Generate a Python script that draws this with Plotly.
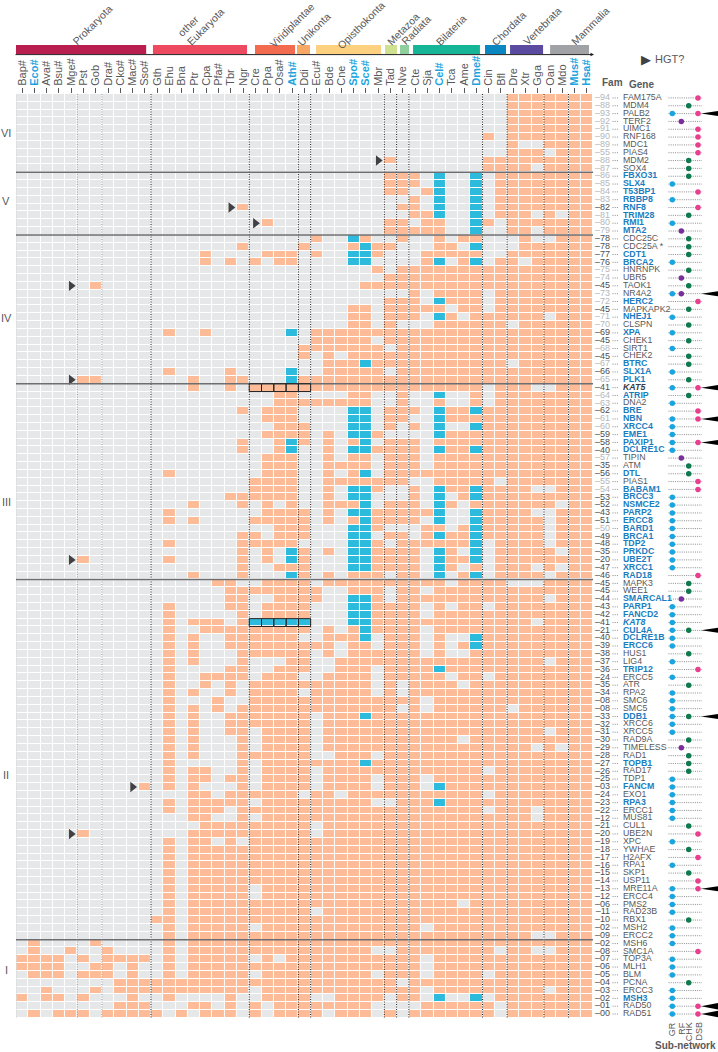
import plotly.graph_objects as go

species = ["Bap#","Eco#","Ava#","Bsu#","Mge#","Pst","Gob","Dra#","Cko#","Mac#","Sso#","Gth","Ehu","Bna","Ptr","Cpa","Pfa#","Tbr","Ngr",
           "Cre","Ppa","Osa#","Ath#","Ddi","Ecu#","Bde","Cne","Spo#","Sce#","Mbr","Tad","Nve","Cte","Sja","Cel#","Tca","Ame","Dme#",
           "Cin","Bfl","Dre","Xtr","Gga","Oan","Mdo","Mus#","Hsa#"]
model_species = {"Eco#","Ath#","Spo#","Sce#","Cel#","Dme#","Mus#","Hsa#"}

genes = ["FAM175A","MDM4","PALB2","TERF2","UIMC1","RNF168","MDC1","PIAS4","MDM2","SOX4",
         "FBXO31","SLX4","T53BP1","RBBP8","RNF8","TRIM28","RMI1","MTA2",
         "CDC25C","CDC25A *","CDT1","BRCA2","HNRNPK","UBR5","TAOK1","NR4A2","HERC2","MAPKAPK2","NHEJ1","CLSPN","XPA","CHEK1","SIRT1","CHEK2","BTRC","SLX1A","PLK1",
         "KAT5","ATRIP","DNA2","BRE","NBN","XRCC4","EME1","PAXIP1","DCLRE1C","TIPIN","ATM","DTL","PIAS1","BABAM1","BRCC3","NSMCE2","PARP2","ERCC8","BARD1","BRCA1","TDP2","PRKDC","UBE2T","XRCC1","RAD18",
         "MAPK3","WEE1","SMARCAL1","PARP1","FANCD2","KAT8","CUL4A","DCLRE1B","ERCC6","HUS1","LIG4","TRIP12","ERCC5","ATR","RPA2","SMC6","SMC5","DDB1","XRCC6","XRCC5","RAD9A","TIMELESS","RAD1","TOPB1","RAD17","TDP1","FANCM","EXO1","RPA3","ERCC1","MUS81","CUL1","UBE2N","XPC","YWHAE","H2AFX","RPA1","SKP1","USP11","MRE11A","ERCC4","PMS2","RAD23B","RBX1","MSH2","ERCC2",
         "MSH6","SMC1A","TOP3A","MLH1","BLM","PCNA","ERCC3","MSH3","RAD50","RAD51"]

fam = ["94","88","93","92","91","90","89","55","88","87","86","85","84","83","82","81","80","79",
       "78","78","77","76","75","74","45","73","72","45","71","70","69","45","68","45","67","66","65",
       "41","64","63","62","61","60","59","58","40","57","35","56","55","54","53","52","43","51","50","49","48","35","20","47","46",
       "45","45","44","43","42","41","21","40","39","38","37","36","24","35","34","08","08","33","32","31","30","29","28","27","26","25","03","24","23","22","12","21","20","19","18","17","16","15","14","13","12","06","11","10","02","09",
       "02","08","07","06","05","04","03","02","01","00"]
fam_faded_rows = [0,1,2,3,4,5,6,7,8,9,10,11,12,13,15,16,17,22,23,25,26,28,29,32,34,36,38,39,41,42,46,49,50,55]

blue_genes = {"FBXO31","SLX4","T53BP1","RBBP8","RNF8","TRIM28","RMI1","MTA2","CDT1","BRCA2","HERC2","NHEJ1","XPA","BTRC","SLX1A","PLK1",
              "ATRIP","BRE","NBN","XRCC4","EME1","PAXIP1","DCLRE1C","DTL","BABAM1","BRCC3","NSMCE2","PARP2","ERCC8","BARD1","BRCA1","TDP2","PRKDC","UBE2T","XRCC1","RAD18",
              "SMARCAL1","PARP1","FANCD2","KAT8","CUL4A","DCLRE1B","ERCC6","TRIP12","DDB1","TOPB1","FANCM","RPA3","MSH3"}
italic_genes = {"KAT5","KAT8"}

# presence per gene: "orange columns|blue columns"
presence = [
"40-46","40-46","40-46","40-46","40-46","38,40-46","40,43-46","40-42,44-46","30,38-46","38-41,43-46",
"30-32,39-46|34,37","30-32,39-46|34,37","30,31,33,39-46|34,37","32,39-46|34,37","18,31,32,39-46|34,37","32,33,39-41,43,45,46|34,37","20,30,31,33,34,38,40-46|37","30-34,40,41,43-46|37",
"24,28,31,34,36,37,41,44-46|27","18,23,27,29,30,34,35,41-46|28,37","15,20-22,24,29,33-37,40-46|27,28","15,17,19,21,22,33,36,39,40,42-46|27,28,34,37",
"29,31-46","30-46","6,28-46","32,34-37,39-46","30-32,35-37,39-46|34","27,28,30-34,36,37,39-46","27,28,30-32,35,37-42,44-46|34","27,28,30,34-39,41-46",
"12,15,24-46|22","24-28,30-46","23-29,31-46","23,25,27-46","25-27,29-39,41-46|28","12,17,25-29,31-46|22","5,6,14,17,18,23-46|22",
"14,17,19-37,39-41,44-46","21,22,27,28,31,37,39-46|34","21-28,31,34,37,39-46","18,20-22,30-32,35,36,38-46|27,28,34,37","20-22,30,31,35-46|27,28,34",
"21-23,30,32,38-46|27,28,34,37","20-23,25,29,35-46|27,28,34","18,21,23,25,27,30-32,34-46|22,28","18,21,25,29-32,35,36,38-46|22,27,28,34,37","20-22,25,27,28,30-32,34-46",
"20-22,25-28,30-32,34-46","12,20-22,25,27,30-46|28","19-22,25-31,34-38,40-46","19-22,25,29,32,35,36,38-41,44-46|27,28,34,37","17-22,25,32,36,38-46|27,28,34,37",
"14,18,20,22,25-27,30-32,35,37-43,45,46|28,34","12,20-23,25,29-33,38-41,44-46|27,28,34,37","12,14,19-23,25,27,29-32,38-42,44-46|28,34,37","21-23,29,33,34,36,38-42,44-46|27,28,37",
"18,19,21-23,30,31,33,35,36,38-42,44-46|27,28,34,37","12,18-22,29,31-36,39-42,44-46|27,28,37","18,20,23,25,29-32,35,39-43,45,46|22,27,28,34,37","5,12,18,20,23,29-32,35,36,39-46|22,27,28,34,37",
"18,21-23,29-32,35,37,39-41,43,45,46|27,28,34","14,18,23,25,27-29,31,32,36,39-42,44-46|22,34,37",
"16,17,20-23,25-34,36-39,43-46","17-24,27-29,31,32,34-46","17,18,21-24,29,31-42,44-46|27,28","12,17,18,20-23,29-32,34,36,37,39-46|27,28","12,18,20-23,29-32,34-46|27,28",
"12,14-16,18,29-41,43-46|19-23,27,28","12,15-23,25,27,29-32,34-46|28","12,14,17-22,25-27,30-32,34,38-46|28,37","12,14,17-25,27,28,30-32,34,36,38-46|37","12,14,18-23,25,27-32,34,37-46",
"12,14,18,22,23,26-42,44-46","12,17,18,21-23,26-28,30-33,35-46|34","12,15-18,20-22,25-28,30-34,36,37,39-46","12,15,17,19-28,30,32-35,37-46","12,14,17,19-22,24-28,30,32-46",
"12,16,19-32,34-46","12,14,16,18-30,32,34-39,41-46","12,14,17-23,25-27,29-46|28","12,14,17-23,25-46","12,14,17,18,20-23,25-42,44-46",
"12,14,18,20-23,25-35,37-46","12,14,18,20-23,25-41,43,45,46","12,14,18-23,26-28,30-46","12,18,20-27,29-46|28","12,14,15,18,20-23,25-37,39-46",
"12,14,15,17,18,20-23,25-28,30-32,34-46","10,12,14,18,20-23,25-28,30-32,35-46|34","14,15,17-22,24,25,27-37,39-46","12,14-18,20-28,31-33,35-46|34","12,14-16,18-37,39-41,43-46",
"14,15,18,20-41,43-46","15-23,25-46","5,14-23,25-46","12,14,15,17,19-46","12,14-46","12,14-46","12,14-46","12,14-46","12,14-46",
"12,14-18,20-46","12,14-18,20-46","12,14-35,37-46","12,14-23,25-46","11,12,14-46","12,14-18,20-32,34-46","12,14-41,44-46",
"1,6,12,14-46","1,4,7,12,14-28,31-38,40,41,44-46","0-3,5,7-10,12,14-18,20,22-32,34-46","0-3,6,7,9,12,14-32,34-46","1-3,5-7,9,12,14-18,20-28,30-32,34-37,39-46",
"8-30,32-46","2,6,8-18,20-32,34-42,44-46","0,2,3,5,9,12,17,20-23,26-29,31,32,39-46|34,37","8-10,14,15,17,19,21-28,33-38,40-46","1,3-5,7-11,13,15-17,19,21-24,26-28,30,32-38,40-46",
]

# sub-network membership per gene: G=GR, R=RF, C=CHK, D=DSB
subnet = ["D","C","GD","R","D","D","D","D","C","C","C","G","D","G","D","C","G","R",
          "C","C","C","G","C","R","C","GR","D","C","G","C","G","C","G","C","C","G","C",
          "GD","C","G","D","GD","G","G","GD","G","R","C","C","D","D","G","G","G","G","G","G","G","G","G","G","D",
          "C","C","R","G","G","G","GC","G","G","C","G","D","G","C","G","G","G","GC","G","G","C","R","C","C","C","G","G","G","G","G","G","C","D","G","C","D","G","C","D","GD","G","G","G","C","G","G",
          "G","D","G","G","G","C","G","G","GD","GD"]

hgt_rows = [8,14,16,24,36,59,88,94]
hgt_cols = [29,17,19,4,4,4,9,4]
wedge_genes = ["PALB2","NR4A2","KAT5","NBN","PAXIP1","CUL4A","DDB1","MRE11A","RAD50","RAD51"]
boxed_rows = [37,67]
boxed_cols = [19,20,21,22,23]
group_breaks = [10,18,37,62,108]
group_names = ["VI","V","IV","III","II","I"]
group_mid = [4.5,13.2,28.1,51.6,86.5,111.4]
dark_dots = [11,19,23,24,30,31,32,38,40,43,45]
grey_dots = [5,7]

taxa = ["Prokaryota","other Eukaryota","Viridiplantae","Unikonta","Opisthokonta","Metazoa","Radiata","Bilateria","Chordata","Vertebrata","Mammalia"]
taxa_start = [-0.63,10.66,18.97,22.39,23.94,29.56,30.78,31.84,37.70,39.74,43.00]
taxa_end = [10.11,18.32,22.23,23.45,29.23,30.53,31.51,37.29,39.41,42.43,46.17]
taxa_color = ["#b81f4f","#ee4a5f","#f26b4e","#f8a765","#fdd17f","#cfe08f","#8fcf9d","#16b598","#0a86c1","#5a4ba1","#a0a2a6"]

W, H = 718, 1052
GRID_L, COL_W, GRID_T, ROW_H = 15.9, 12.28, 94.0, 7.83
N_C, N_R = len(species), len(genes)
FONT = "Liberation Sans, Arial, sans-serif"
TXT = "#58595b"
BLUE_TXT = "#1b7dbf"

def parse(part):
    out = []
    for tok in part.split(","):
        if not tok:
            continue
        if "-" in tok:
            a, b = tok.split("-")
            out += list(range(int(a), int(b) + 1))
        else:
            out.append(int(tok))
    return out

z = []
for spec in presence:
    orange, _, blue = spec.partition("|")
    row = [0] * N_C
    for c in parse(orange):
        row[c] = 1
    for c in parse(blue):
        row[c] = 2
    z.append(row)

fig = go.Figure()
fig.add_trace(go.Heatmap(z=z, x=list(range(N_C)), y=list(range(N_R)), zmin=0, zmax=2, xgap=1, ygap=1, showscale=False, hoverinfo="skip",
                         colorscale=[[0,"#e6e7e9"],[0.33,"#e6e7e9"],[0.34,"#fdbc97"],[0.66,"#fdbc97"],[0.67,"#2cbbdc"],[1,"#2cbbdc"]]))
fig.add_trace(go.Scatter(x=hgt_cols, y=hgt_rows, mode="markers", hoverinfo="skip",
                         marker=dict(symbol="triangle-right", size=9, color="#414042")))

# right-hand panel on a second x axis measured in figure pixels
X_FAM, X_TICK0, X_TICK1, X_GENE = 610, 612.5, 618.5, 623
SUB_X = {"G": 672.3, "R": 681.3, "C": 688.7, "D": 698.0}
SUB_C = {"G": "#1ba5df", "R": "#7a2e9c", "C": "#0e7a4e", "D": "#e8408f"}
rows = list(range(N_R))

lx, ly = [], []
for r in rows:
    lx += [X_TICK0, X_TICK1, None, 668.5, 702, None]
    ly += [r, r, None, r, r, None]
fig.add_trace(go.Scatter(x=lx, y=ly, xaxis="x2", mode="lines", hoverinfo="skip",
                         line=dict(color="#6d6e71", width=0.8, dash="1px,1.2px")))

fam_col = ["#b5b7ba" if r in fam_faded_rows else "#4d4e50" for r in rows]
fig.add_trace(go.Scatter(x=[X_FAM]*N_R, y=rows, xaxis="x2", mode="text", text=["–"+f for f in fam], textposition="middle left",
                         textfont=dict(family=FONT, size=9, color=fam_col), hoverinfo="skip", cliponaxis=False))

def gene_label(g):
    t = g
    if g in italic_genes:
        t = f"<i>{t}</i>"
    if g in blue_genes or g in italic_genes:
        t = f"<b>{t}</b>"
    return t
gene_col = []
for g in genes:
    if g in blue_genes:
        gene_col.append(BLUE_TXT)
    elif g in italic_genes:
        gene_col.append("#3a3a3c")
    else:
        gene_col.append(TXT)
fig.add_trace(go.Scatter(x=[X_GENE]*N_R, y=rows, xaxis="x2", mode="text", text=[gene_label(g) for g in genes], textposition="middle right",
                         textfont=dict(family=FONT, size=8.8, color=gene_col), hoverinfo="skip", cliponaxis=False))

for key in "GRCD":
    rr = [r for r in rows if key in subnet[r]]
    fig.add_trace(go.Scatter(x=[SUB_X[key]]*len(rr), y=rr, xaxis="x2", mode="markers", hoverinfo="skip",
                             marker=dict(size=5.5, color=SUB_C[key])))

for g in wedge_genes:
    r = genes.index(g)
    half = 0.42 if g in ("RAD50","RAD51") else 0.32
    fig.add_trace(go.Scatter(x=[701, 718, 718, 701], y=[r, r-half, r+half, r], xaxis="x2", mode="lines", fill="toself",
                             fillcolor="#000000", line=dict(width=0), hoverinfo="skip"))

shapes = []
for k in dark_dots + grey_dots:
    col = "#9a9b9e" if k in grey_dots else "#231f20"
    shapes.append(dict(type="line", xref="x", yref="y", x0=k-0.5, x1=k-0.5, y0=-0.5, y1=N_R-0.5,
                       line=dict(color=col, width=1, dash="1px,1.5px")))
shapes.append(dict(type="line", xref="x", yref="y", x0=-0.5, x1=-0.5, y0=-0.5, y1=N_R-0.5, line=dict(color="#d9dadc", width=1.5)))
shapes.append(dict(type="line", xref="x", yref="y", x0=-0.5, x1=N_C-0.5, y0=N_R-0.35, y1=N_R-0.35, line=dict(color="#d9dadc", width=1.5)))
for b in group_breaks:
    shapes.append(dict(type="line", xref="x", yref="y", x0=-0.65, x1=N_C-0.3, y0=b-0.5, y1=b-0.5, line=dict(color="#6d6e71", width=1.5)))
for r in boxed_rows:
    for c in boxed_cols:
        shapes.append(dict(type="rect", xref="x", yref="y", x0=c-0.5, x1=c+0.5, y0=r-0.5, y1=r+0.5, line=dict(color="#231f20", width=1)))
for s, e, c in zip(taxa_start, taxa_end, taxa_color):
    shapes.append(dict(type="rect", xref="x", yref="paper", x0=s, x1=e, y0=1-54/H, y1=1-45/H, fillcolor=c, line=dict(width=0)))

annots = []
def px_text(txt, x, y, size=11, color=TXT, angle=0, xanchor="center"):
    annots.append(dict(text=txt, x=x/W, y=1-y/H, xref="paper", yref="paper", showarrow=False, textangle=angle, xanchor=xanchor, yanchor="middle",
                       font=dict(family=FONT, size=size, color=color)))

annots.append(dict(x=594/W, y=1-54.6/H, ax=-580, ay=0, xref="paper", yref="paper", axref="pixel", ayref="pixel", text="",
                   showarrow=True, arrowhead=2, arrowsize=0.7, arrowwidth=1, arrowcolor="#231f20"))

for t, x, y in [("Prokaryota",92,25),("other",188,26),("Eukaryota",205,27),("Viridiplantae",292,25),("Unikonta",314,29),("Opisthokonta",361,25),
                ("Metazoa",403,29),("Radiata",416,30),("Bilateria",451,30),("Chordata",509,28),("Vertebrata",542,26),("Mammalia",590,26)]:
    px_text(t, x, y, size=10.5, angle=-45)

px_text("▶", 646, 59, size=13, color="#414042")
px_text("HGT?", 653, 59, size=11, xanchor="left")
px_text("<b>Fam</b>", 612, 83, size=10)
px_text("<b>Gene</b>", 641, 84, size=10)
for t, x in [("GR",672.3),("RF",681.3),("CHK",688.7),("DSB",698.0)]:
    annots.append(dict(text=t, x=x/W, y=1-1020/H, xref="paper", yref="paper", showarrow=False, textangle=-90, xanchor="center", yanchor="top",
                       font=dict(family=FONT, size=9, color=TXT)))
px_text("<b>Sub-network</b>", 685, 1045, size=10)
for t, m in zip(group_names, group_mid):
    annots.append(dict(text=t, x=6/W, y=m, xref="paper", yref="y", showarrow=False, xanchor="center", yanchor="middle",
                       font=dict(family=FONT, size=11, color=TXT)))

def sp_label(s):
    if s in model_species:
        return f'<span style="color:#1ba5df"><b>{s}</b></span>'
    return s

fig.update_layout(
    width=W, height=H, margin=dict(l=0, r=0, t=0, b=0), autosize=False, showlegend=False,
    paper_bgcolor="white", plot_bgcolor="rgba(0,0,0,0)", shapes=shapes, annotations=annots,
    xaxis=dict(domain=[GRID_L/W, (GRID_L+N_C*COL_W)/W], range=[-0.5, N_C-0.5], side="top", anchor="y", tickmode="array",
               tickvals=list(range(N_C)), ticktext=[sp_label(s) for s in species], tickangle=-90, ticks="outside", ticklen=5, tickwidth=0.8,
               tickcolor="#58595b", tickfont=dict(family=FONT, size=11, color=TXT), showgrid=False, zeroline=False, showline=False, fixedrange=True),
    xaxis2=dict(domain=[0, 1], range=[0, W], anchor="y", visible=False, showgrid=False, zeroline=False, fixedrange=True),
    yaxis=dict(domain=[1-(GRID_T+N_R*ROW_H)/H, 1-GRID_T/H], range=[N_R-0.5, -0.5], anchor="x", visible=False, showgrid=False, zeroline=False, fixedrange=True),
)
fig.write_html("out.html", config=dict(displayModeBar=False, responsive=False),
               post_script="document.body.style.margin='0';")
